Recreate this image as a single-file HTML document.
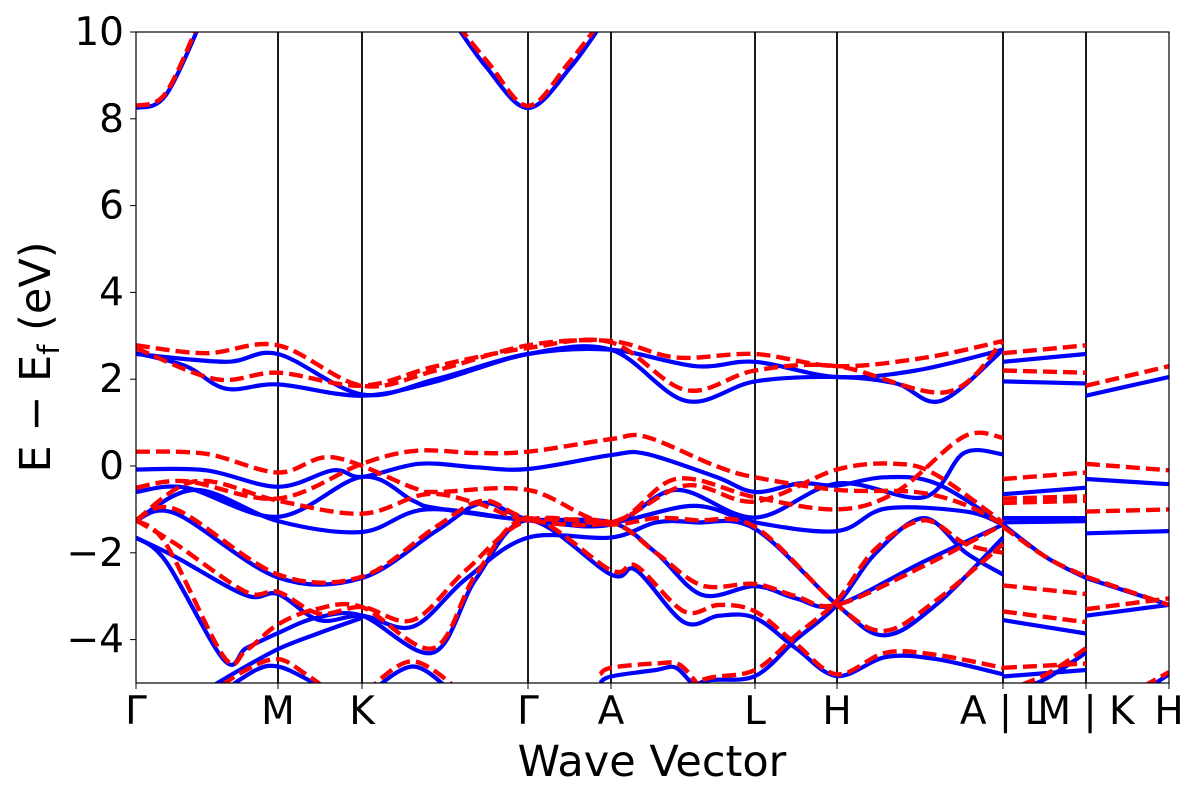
<!DOCTYPE html>
<html><head><meta charset="utf-8"><style>
body{margin:0;background:#fff;}
svg text{font-family:"DejaVu Sans","Liberation Sans",sans-serif;fill:#000;}
</style></head><body>
<svg id="chart" width="1200" height="800" viewBox="0 0 1200 800" xmlns="http://www.w3.org/2000/svg">
<defs><clipPath id="pc"><rect x="136" y="32" width="1033" height="651"/></clipPath></defs>
<g id="vlines"></g>
<g id="bands" clip-path="url(#pc)"></g>
<rect x="136" y="32" width="1033" height="651" fill="none" stroke="#000" stroke-width="1.2"/>
<g id="axes"></g>
<text x="652" y="776" font-size="43" text-anchor="middle">Wave Vector</text>
<text transform="translate(50,357) rotate(-90)" font-size="43" text-anchor="middle">E − E<tspan font-size="29" dy="9">f</tspan><tspan dy="-9"> (eV)</tspan></text>
</svg>
<script>
const kTicks=[0,142,226,392,475,619,701,867,950,1033];
const kLabels=["Γ","M","K","Γ","A","L","H","A | L","M | K","H"];
const yTicks=[10,8,6,4,2,0,-2,-4];
const yMin=-5,yMax=10;
const blueBands=[
[[0,8.25],[30,8.55],[70,10.5]],
[[310,10.5],[350,9.2],[392,8.25],[435,9.2],[475,10.5]],
[[0,2.6],[50,2.3],[90,1.78],[142,1.88],[226,1.62],[300,1.95],[392,2.58],[475,2.68],[550,1.5],[619,1.95],[701,2.05],[760,1.9],[805,1.5],[867,2.68]],
[[0,2.58],[90,2.4],[142,2.58],[226,1.65],[300,2.0],[392,2.58],[475,2.68],[560,2.3],[619,2.4],[701,2.05],[780,2.2],[867,2.68]],
[[0,-0.08],[70,-0.1],[142,-0.48],[197,-0.1],[226,-0.25],[283,0.05],[340,-0.03],[392,-0.07],[475,0.25],[510,0.28],[580,-0.25],[619,-0.6],[664,-0.4],[701,-0.45],[748,-0.26],[800,-0.4],[867,-1.35]],
[[0,-0.6],[50,-0.5],[142,-1.17],[226,-0.25],[277,-0.8],[300,-0.97],[392,-1.25],[475,-1.35],[540,-0.55],[619,-1.19],[701,-0.4],[788,-0.72],[828,0.3],[867,0.27]],
[[0,-1.25],[60,-0.55],[142,-1.27],[226,-1.52],[290,-1.0],[392,-1.25],[475,-1.3],[558,-0.92],[619,-1.3],[701,-1.5],[750,-0.98],[830,-1.05],[867,-1.35]],
[[0,-1.25],[40,-1.1],[142,-2.57],[226,-2.58],[300,-1.5],[347,-0.85],[392,-1.22],[475,-1.3],[520,-2.0],[566,-2.97],[619,-2.77],[660,-3.05],[701,-3.2],[788,-2.2],[867,-1.35]],
[[0,-1.65],[30,-2.2],[88,-4.47],[110,-4.2],[142,-3.85],[180,-3.5],[226,-3.45],[297,-4.3],[340,-2.6],[392,-1.25],[475,-2.5],[500,-2.4],[548,-3.6],[583,-3.45],[619,-3.5],[660,-4.2],[701,-4.84],[750,-4.4],[800,-4.45],[867,-4.8]],
[[0,-1.65],[40,-2.1],[110,-2.98],[142,-2.95],[183,-3.55],[226,-3.45],[277,-3.7],[330,-2.6],[392,-1.65],[475,-1.65],[520,-1.3],[560,-1.3],[619,-1.45],[701,-3.2],[748,-3.9],[800,-3.2],[867,-1.65]],
[[540,-5.3],[570,-4.95],[619,-4.84],[660,-4.0],[701,-3.2],[740,-2.0],[788,-1.2],[830,-2.0],[867,-2.5]],
[[60,-5.3],[100,-4.75],[142,-4.22],[183,-3.85],[226,-3.5]],
[[80,-5.3],[120,-4.7],[142,-4.62],[170,-4.9],[200,-5.3]],
[[230,-5.3],[277,-4.62],[320,-5.3]],
[[464,-5.0],[475,-4.85],[520,-4.7],[540,-4.65],[560,-5.1],[580,-5.3]],
[[867,2.4],[950,2.58]],[[867,1.95],[950,1.9]],[[867,-0.65],[950,-0.5]],[[867,-1.2],[950,-1.2]],[[867,-1.3],[950,-1.27]],
[[867,-1.35],[910,-2.1],[950,-2.58]],[[867,-3.55],[950,-3.86]],[[867,-4.85],[950,-4.7]],[[867,-5.3],[910,-4.9],[950,-4.3]],
[[950,1.62],[1033,2.05]],[[950,-0.3],[1033,-0.42]],[[950,-1.55],[1033,-1.5]],[[950,-2.58],[1033,-3.2]],[[950,-3.45],[1033,-3.2]],[[1000,-5.3],[1033,-4.8]]
];
const redBands=[
[[0,8.3],[30,8.6],[68,10.5]],
[[310,10.5],[352,9.3],[392,8.3],[433,9.3],[473,10.5]],
[[0,2.78],[70,2.6],[142,2.78],[226,1.85],[300,2.2],[392,2.78],[475,2.88],[540,2.5],[619,2.58],[701,2.3],[790,2.5],[867,2.88]],
[[0,2.72],[80,2.0],[142,2.15],[226,1.85],[300,2.3],[392,2.72],[475,2.85],[550,1.75],[619,2.2],[701,2.3],[810,1.7],[867,2.88]],
[[0,0.33],[70,0.28],[142,-0.15],[197,0.2],[277,-0.5],[300,-0.6],[392,-0.55],[475,-1.3],[540,-0.3],[619,-0.72],[701,-1.0],[760,-0.6],[828,0.68],[867,0.65]],
[[0,-0.5],[50,-0.35],[142,-0.75],[226,0.05],[280,0.35],[340,0.3],[392,0.33],[475,0.62],[510,0.67],[580,0.0],[619,-0.26],[701,-0.55],[780,-0.6],[830,-0.9],[867,-1.35]],
[[0,-1.25],[60,-0.35],[142,-0.8],[226,-1.1],[290,-0.65],[340,-0.85],[392,-1.25],[475,-1.3],[550,-0.45],[619,-0.82],[701,-0.08],[760,0.05],[800,-0.2],[867,-1.3]],
[[0,-1.25],[40,-1.0],[142,-2.5],[226,-2.55],[300,-1.4],[347,-0.8],[392,-1.2],[475,-1.3],[520,-2.0],[566,-2.75],[619,-2.72],[660,-3.0],[701,-3.2],[788,-2.3],[867,-1.35]],
[[0,-1.25],[30,-1.8],[88,-4.4],[110,-4.25],[142,-3.65],[180,-3.3],[226,-3.25],[297,-4.2],[340,-2.5],[392,-1.2],[475,-2.4],[500,-2.3],[548,-3.35],[583,-3.2],[619,-3.35],[660,-4.1],[701,-4.8],[750,-4.3],[800,-4.35],[867,-4.65]],
[[0,-1.25],[40,-1.8],[110,-2.9],[142,-2.9],[183,-3.4],[226,-3.25],[277,-3.55],[330,-2.4],[392,-1.25],[475,-1.35],[520,-1.2],[560,-1.25],[619,-1.4],[701,-3.2],[748,-3.8],[800,-3.1],[867,-1.8]],
[[530,-5.3],[570,-4.9],[619,-4.7],[660,-3.9],[701,-3.1],[740,-1.9],[788,-1.25],[830,-1.8],[867,-2.0]],
[[70,-5.3],[110,-4.7],[142,-4.45],[170,-4.8],[200,-5.3]],
[[230,-5.2],[277,-4.5],[330,-5.3]],
[[464,-4.8],[475,-4.65],[520,-4.55],[545,-4.6],[570,-5.3]],
[[867,2.6],[950,2.78]],[[867,2.2],[950,2.15]],[[867,-0.3],[950,-0.15]],[[867,-0.75],[950,-0.7]],[[867,-0.85],[950,-0.8]],
[[867,-1.4],[910,-2.1],[950,-2.55]],[[867,-2.75],[950,-2.95]],[[867,-3.35],[950,-3.6]],[[867,-4.65],[950,-4.55]],[[867,-5.2],[910,-4.8],[950,-4.2]],
[[950,1.85],[1033,2.3]],[[950,0.05],[1033,-0.1]],[[950,-1.05],[1033,-1.0]],[[950,-2.55],[1033,-3.2]],[[950,-3.3],[1033,-3.05]],[[990,-5.3],[1033,-4.75]]
];
const NS="http://www.w3.org/2000/svg";
const X=k=>136+k*(1033/1033);
const Y=e=>32+(yMax-e)*651/(yMax-yMin);
function pathD(pts){
  const p=pts.map(q=>[X(q[0]),Y(q[1])]);
  let d="M"+p[0][0].toFixed(1)+","+p[0][1].toFixed(1);
  for(let i=0;i<p.length-1;i++){
    const p0=p[i-1]||p[i],p1=p[i],p2=p[i+1],p3=p[i+2]||p2;
    const c1=[p1[0]+(p2[0]-p0[0])/6,p1[1]+(p2[1]-p0[1])/6];
    const c2=[p2[0]-(p3[0]-p1[0])/6,p2[1]-(p3[1]-p1[1])/6];
    d+=" C"+c1[0].toFixed(1)+","+c1[1].toFixed(1)+" "+c2[0].toFixed(1)+","+c2[1].toFixed(1)+" "+p2[0].toFixed(1)+","+p2[1].toFixed(1);
  }
  return d;
}
const bandsG=document.getElementById('bands');
blueBands.forEach((b,i)=>{
  const el=document.createElementNS(NS,'path');
  el.setAttribute('d',pathD(b));el.setAttribute('fill','none');el.setAttribute('stroke','#0000ff');el.setAttribute('stroke-width','4.2');
  
  
  bandsG.appendChild(el);
});
redBands.forEach((b,i)=>{
  const el=document.createElementNS(NS,'path');
  el.setAttribute('d',pathD(b));el.setAttribute('fill','none');el.setAttribute('stroke','#ff0000');el.setAttribute('stroke-width','4.4');el.setAttribute('stroke-dasharray','14,6');
  
  
  bandsG.appendChild(el);
});
const vG=document.getElementById('vlines'),aG=document.getElementById('axes');
kTicks.forEach((k,i)=>{
  if(i>0&&i<kTicks.length-1){
    const l=document.createElementNS(NS,'line');
    l.setAttribute('x1',X(k));l.setAttribute('x2',X(k));l.setAttribute('y1',32);l.setAttribute('y2',683);l.setAttribute('stroke','#000');l.setAttribute('stroke-width','1.8');
    
    
    vG.appendChild(l);
  }
  const t=document.createElementNS(NS,'line');
  t.setAttribute('x1',X(k));t.setAttribute('x2',X(k));t.setAttribute('y1',683);t.setAttribute('y2',689);t.setAttribute('stroke','#000');
  
  
  aG.appendChild(t);
  const tx=document.createElementNS(NS,'text');
  tx.setAttribute('x',X(k));tx.setAttribute('y',724);tx.setAttribute('font-size','39');tx.setAttribute('text-anchor','middle');
  tx.textContent=kLabels[i];
  
  
  aG.appendChild(tx);
});
yTicks.forEach(v=>{
  const t=document.createElementNS(NS,'line');
  t.setAttribute('x1',130);t.setAttribute('x2',136);t.setAttribute('y1',Y(v));t.setAttribute('y2',Y(v));t.setAttribute('stroke','#000');
  
  
  aG.appendChild(t);
  const tx=document.createElementNS(NS,'text');
  tx.setAttribute('x',124);tx.setAttribute('y',Y(v)+13);tx.setAttribute('font-size','39');tx.setAttribute('text-anchor','end');
  tx.textContent=(v<0?"−"+(-v):String(v));
  
  
  aG.appendChild(tx);
});
</script>
</body></html>
